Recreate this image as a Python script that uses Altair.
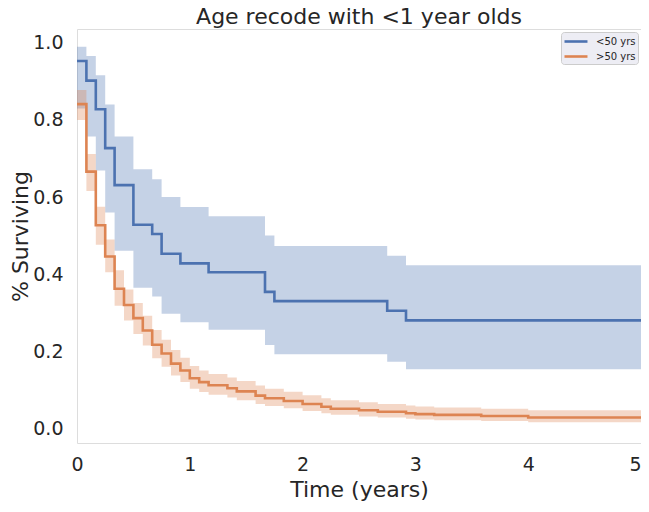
import altair as alt
import pandas as pd

# <50 yrs (Kaplan-Meier estimate with confidence interval), step times in months
blue_months = [0, 1, 2, 3, 4, 6, 8, 9, 11, 14, 20, 21, 33, 35]
blue_surv = [0.953, 0.902, 0.828, 0.727, 0.631, 0.528, 0.504, 0.453, 0.428, 0.405, 0.354, 0.330, 0.305, 0.280]
blue_lo = [0.830, 0.757, 0.669, 0.560, 0.461, 0.365, 0.342, 0.297, 0.275, 0.256, 0.216, 0.192, 0.173, 0.153]
blue_hi = [0.990, 0.966, 0.916, 0.840, 0.757, 0.672, 0.646, 0.600, 0.574, 0.550, 0.500, 0.473, 0.448, 0.423]

# >50 yrs
orange_months = [0, 1, 2, 3, 4, 5, 6, 7, 8, 9, 10, 11, 12, 13, 14, 16, 17, 19, 20, 22,
                 24, 26, 27, 30, 32, 35, 36, 38, 43, 48]
orange_surv = [0.841, 0.666, 0.527, 0.446, 0.362, 0.320, 0.286, 0.254, 0.217, 0.194,
               0.168, 0.150, 0.130, 0.120, 0.112, 0.104, 0.096, 0.085, 0.078, 0.071,
               0.063, 0.056, 0.051, 0.047, 0.043, 0.039, 0.037, 0.035, 0.032, 0.028]
orange_lo = [0.800, 0.616, 0.476, 0.405, 0.318, 0.280, 0.245, 0.215, 0.182, 0.160,
             0.137, 0.120, 0.103, 0.094, 0.087, 0.080, 0.073, 0.063, 0.058, 0.052,
             0.045, 0.039, 0.035, 0.031, 0.028, 0.025, 0.023, 0.021, 0.019, 0.016]
orange_hi = [0.878, 0.712, 0.575, 0.490, 0.410, 0.360, 0.325, 0.292, 0.255, 0.230,
             0.203, 0.183, 0.162, 0.150, 0.141, 0.132, 0.123, 0.111, 0.103, 0.095,
             0.086, 0.078, 0.073, 0.068, 0.063, 0.059, 0.057, 0.054, 0.051, 0.047]

groups = ["<50 yrs", ">50 yrs"]
colors = ["#4C72B0", "#DD8452"]
x_ticks = [0, 1, 2, 3, 4, 5]
y_ticks = [0.0, 0.2, 0.4, 0.6, 0.8, 1.0]
end_time = 5


def build(name, months, surv, lo, hi):
    rows = [{"group": name, "t": m / 12, "s": s, "lo": l, "hi": h}
            for m, s, l, h in zip(months, surv, lo, hi)]
    rows.append({"group": name, "t": end_time, "s": surv[-1], "lo": lo[-1], "hi": hi[-1]})
    return pd.DataFrame(rows)


df = pd.concat([
    build(groups[0], blue_months, blue_surv, blue_lo, blue_hi),
    build(groups[1], orange_months, orange_surv, orange_lo, orange_hi),
], ignore_index=True)

xscale = alt.Scale(domain=[0, 5], nice=False, zero=False)
yscale = alt.Scale(domain=[-0.038, 1.036], nice=False, zero=False)

xaxis = alt.Axis(values=x_ticks, format="d", grid=False, ticks=False, domain=False,
                 labelFontSize=19, labelPadding=12, title="Time (years)",
                 titleFontSize=22, titlePadding=5, labelColor="#262626",
                 titleColor="#262626", titleFontWeight="normal", labelFlush=False,
                 labelAlign={"expr": "datum.value == 5 ? 'right' : 'center'"})
yaxis = alt.Axis(values=y_ticks, format=".1f", grid=False, ticks=False, domain=False,
                 labelFontSize=19, labelPadding=14, title="% Surviving",
                 titleFontSize=22, titlePadding=0, labelColor="#262626",
                 titleColor="#262626", titleFontWeight="normal")

base = alt.Chart(df)

bands = []
for g, c in zip(groups, colors):
    bands.append(
        base.transform_filter(alt.datum.group == g)
        .mark_area(interpolate="step-after", color=c, opacity=0.32)
        .encode(x=alt.X("t:Q", scale=xscale, axis=xaxis),
                y=alt.Y("lo:Q", scale=yscale, axis=yaxis),
                y2="hi:Q")
    )

lines = base.mark_line(interpolate="step-after", strokeWidth=2.6).encode(
    x=alt.X("t:Q", scale=xscale, axis=xaxis),
    y=alt.Y("s:Q", scale=yscale, axis=yaxis),
    color=alt.Color("group:N", scale=alt.Scale(domain=groups, range=colors),
                    legend=alt.Legend(title=None, orient="top-right", offset=3,
                                      symbolType="M-1,0H2.83", symbolSize=144,
                                      symbolStrokeWidth=2.6, labelFontSize=10,
                                      labelOffset=18, labelColor="#262626",
                                      padding=2, rowPadding=2,
                                      fillColor="#EDEDF4", strokeColor="#CCCCCC",
                                      cornerRadius=3)),
    detail="group:N",
)

chart = alt.layer(*bands, lines).properties(
    width=564, height=414,
    title=alt.TitleParams("Age recode with <1 year olds", fontSize=22, fontWeight="normal",
                          color="#262626", offset=0, anchor="middle"),
    autosize=alt.AutoSizeParams(type="none"),
    padding={"left": 69, "top": 21, "right": 0, "bottom": 60},
).configure_view(fill="#EAEAF2", stroke=None).configure(
    font="DejaVu Sans", background="white"
)

chart.save("out.html", embed_options={"renderer": "svg", "actions": False})
